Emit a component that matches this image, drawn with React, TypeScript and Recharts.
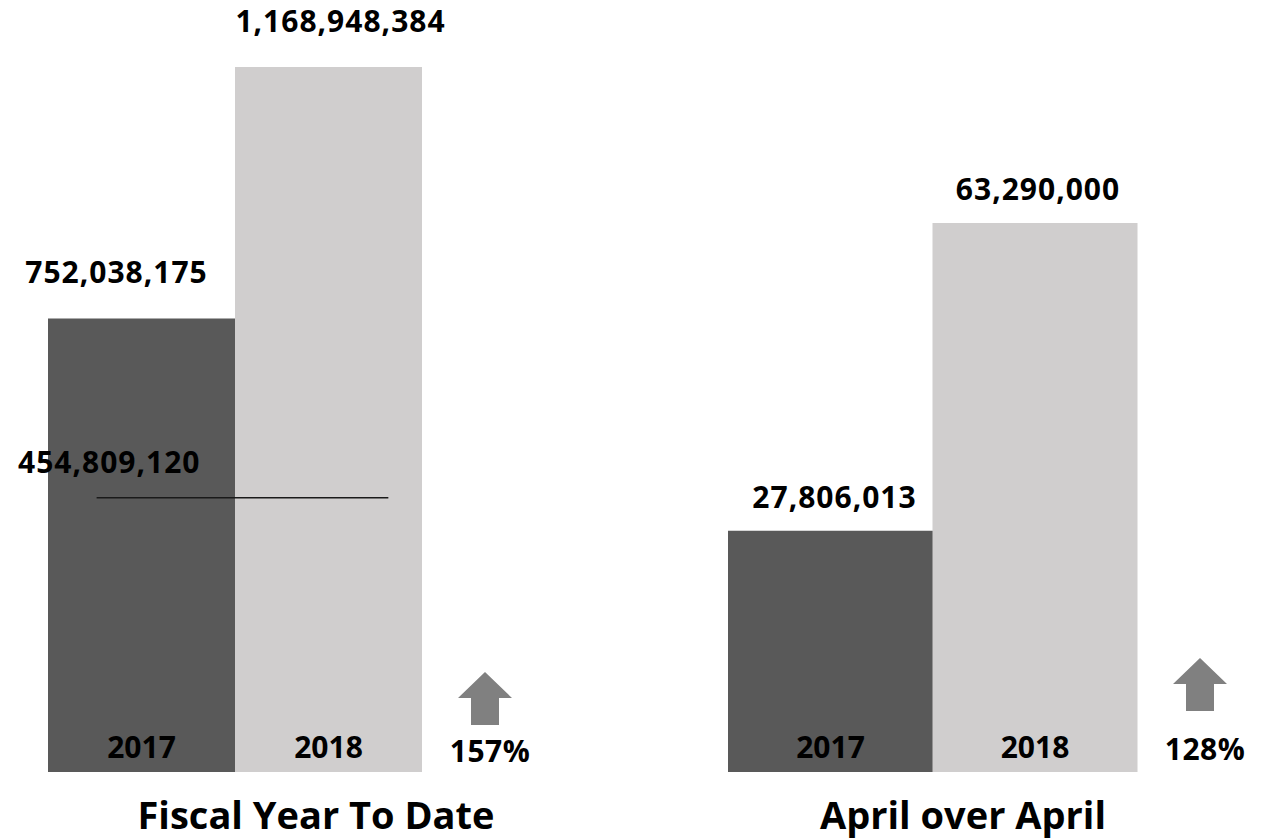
import React from 'react'
import { BarChart, Bar, XAxis, YAxis, Cell, LabelList, ReferenceLine } from 'recharts'

const YEARS = ['2017', '2018']
const FYTD_VALUES = [752038175, 1168948384]
const APRIL_VALUES = [27806013, 63290000]
const FYTD_PRIOR_LINE = 454809120
const GROWTH = ['157%', '128%']
const TITLES = ['Fiscal Year To Date', 'April over April']
const COLORS = ['#595959', '#d0cece']

const FONT = '"Open Sans", "Noto Sans", sans-serif'
const fmt = (v: number) => v.toLocaleString('en-US')

// value labels sit a little off-centre in the original, so allow a nudge per bar
const ValueLabel = (offset: number, nudge: number[]) => (props: any) => {
  const { x, y, width, value, index } = props
  return (
    <text
      x={x + width / 2 + (nudge[index] || 0)}
      y={y - offset}
      textAnchor='middle'
      fontFamily={FONT}
      fontWeight={700}
      fontSize={30}
      letterSpacing={1}
      fill='#000'
    >
      {fmt(value)}
    </text>
  )
}

const YearLabel = (props: any) => {
  const { x, y, width, height, value } = props
  return (
    <text
      x={x + width / 2}
      y={y + height - 14}
      textAnchor='middle'
      fontFamily={FONT}
      fontWeight={700}
      fontSize={30}
      fill='#000'
    >
      {value}
    </text>
  )
}

// line in the left panel does not run the full width
const ShortLine = (props: any) => {
  const { x1, x2, y1 } = props
  const w = x2 - x1
  return <line x1={x1 + w * 0.13} x2={x1 + w * 0.91} y1={y1} y2={y1} stroke='#1a1a1a' strokeWidth={1.6} />
}

const RefLabel = (props: any) => {
  const { viewBox } = props
  return (
    <text
      x={viewBox.x - 30}
      y={viewBox.y - 25}
      fontFamily={FONT}
      fontWeight={700}
      fontSize={30}
      letterSpacing={1}
      fill='#000'
    >
      {fmt(FYTD_PRIOR_LINE)}
    </text>
  )
}

type PanelProps = {
  values: number[]
  title: string
  growth: string
  left: number
  width: number
  margin: { top: number; right: number; bottom: number; left: number }
  labelOffset: number
  labelNudge: number[]
  arrowTop: number
  pctBaseline: number
  titleCenter: number
  refValue?: number
}

const Panel = ({ values, title, growth, left, width, margin, labelOffset, labelNudge, arrowTop, pctBaseline, titleCenter, refValue }: PanelProps) => {
  const data = YEARS.map((year, i) => ({ year, value: values[i] }))
  const plotRight = width - margin.right
  const arrowCx = plotRight + 63
  return (
    <div style={{ position: 'absolute', left, top: 0, width, height: 839 }}>
      <BarChart width={width} height={839} data={data} margin={margin} barCategoryGap={0}>
        <XAxis dataKey='year' hide />
        <YAxis hide domain={[0, 'dataMax']} />
        <Bar dataKey='value' isAnimationActive={false}>
          {data.map((d, i) => (
            <Cell key={d.year} fill={COLORS[i]} />
          ))}
          <LabelList dataKey='value' content={ValueLabel(labelOffset, labelNudge)} />
          <LabelList dataKey='year' content={YearLabel} />
        </Bar>
        {refValue !== undefined && (
          <ReferenceLine y={refValue} shape={ShortLine} label={RefLabel} />
        )}
      </BarChart>
      <svg width={width} height={839} style={{ position: 'absolute', left: 0, top: 0, pointerEvents: 'none' }}>
        <path
          d={`M ${arrowCx} ${arrowTop} L ${arrowCx + 27} ${arrowTop + 26} L ${arrowCx + 14} ${arrowTop + 26} L ${arrowCx + 14} ${arrowTop + 53} L ${arrowCx - 14} ${arrowTop + 53} L ${arrowCx - 14} ${arrowTop + 26} L ${arrowCx - 27} ${arrowTop + 26} Z`}
          fill='#808080'
        />
        <text x={arrowCx + 5} y={pctBaseline} textAnchor='middle' fontFamily={FONT} fontWeight={700} fontSize={30} letterSpacing={0.5} fill='#000'>
          {growth}
        </text>
        <text x={titleCenter} y={829} textAnchor='middle' fontFamily={FONT} fontWeight={700} fontSize={38} fill='#000'>
          {title}
        </text>
      </svg>
    </div>
  )
}

export default function App() {
  return (
    <div style={{ position: 'fixed', left: 0, top: 0, width: 1278, height: 839, background: '#fff', overflow: 'hidden' }}>
      <Panel
        values={FYTD_VALUES}
        title={TITLES[0]}
        growth={GROWTH[0]}
        left={0}
        width={640}
        margin={{ top: 67, right: 218, bottom: 67, left: 48 }}
        labelOffset={35}
        labelNudge={[-25, 12]}
        arrowTop={672}
        pctBaseline={762}
        titleCenter={316}
        refValue={FYTD_PRIOR_LINE}
      />
      <Panel
        values={APRIL_VALUES}
        title={TITLES[1]}
        growth={GROWTH[1]}
        left={640}
        width={638}
        margin={{ top: 223, right: 141, bottom: 67, left: 88 }}
        labelOffset={23}
        labelNudge={[4, 3]}
        arrowTop={658}
        pctBaseline={760}
        titleCenter={323}
      />
    </div>
  )
}
